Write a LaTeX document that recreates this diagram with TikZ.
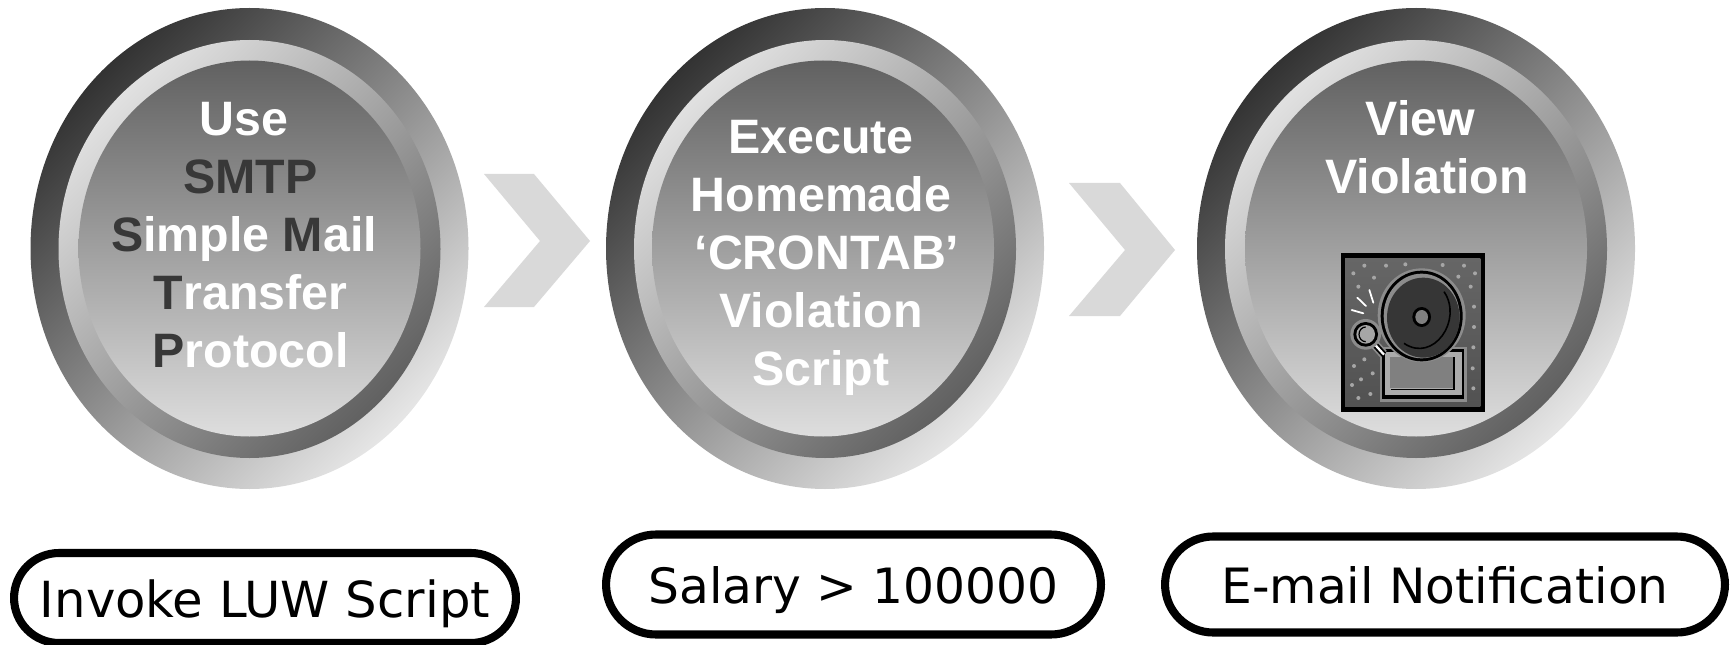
\documentclass[tikz,border=0pt]{standalone}
\usepackage{fontspec}
\setmainfont{Liberation Sans}
\newfontfamily\pillFont{DejaVu Sans}
\usetikzlibrary{positioning, shapes.misc}
\definecolor{darkLetter}{RGB}{56, 56, 56}
\definecolor{chevronCol}{RGB}{217, 217, 217}
\definecolor{bellHalo}{RGB}{140, 140, 140}
\definecolor{bellDark}{RGB}{54, 54, 54}
\tikzset{myOuterRing/.style={top color=black!80, bottom color=black!10, shading angle=45}}
\tikzset{myMiddleRing/.style={top color=black!12, bottom color=black!62, shading angle=45}}
\tikzset{myInnerDisc/.style={top color=black!62, bottom color=black!13}}
\tikzset{myChevron/.style={fill=chevronCol}}
\tikzset{myDiscText/.style={text=white, align=center, font=\fontsize{27.5}{33}\selectfont\bfseries}}
\tikzset{myPill/.style={rounded rectangle, draw=black, line width=4.6pt, fill=white, text=black, text height=0.74cm, text depth=0pt, inner sep=0pt, font=\pillFont\fontsize{27.7}{32}\selectfont}}
\newcommand{\cx}{0}

\begin{document}
\begin{tikzpicture}[x=0.02cm, y=-0.02cm]
	\useasboundingbox (0,0) rectangle (1733,645);

	\renewcommand{\cx}{249.5}
	\shade[myOuterRing](\cx,248.5) ellipse [x radius=219, y radius=240.5];
	\shade[myMiddleRing](\cx,249) ellipse [x radius=191, y radius=209];
	\shade[myInnerDisc](\cx,248.5) ellipse [x radius=171, y radius=188];

	\renewcommand{\cx}{825}
	\shade[myOuterRing](\cx,248.5) ellipse [x radius=219, y radius=240.5];
	\shade[myMiddleRing](\cx,249) ellipse [x radius=191, y radius=209];
	\shade[myInnerDisc](823,248.5) ellipse [x radius=171, y radius=188];

	\renewcommand{\cx}{1416}
	\shade[myOuterRing](\cx,248.5) ellipse [x radius=219, y radius=240.5];
	\shade[myMiddleRing](\cx,249) ellipse [x radius=191, y radius=209];
	\shade[myInnerDisc](\cx,248.5) ellipse [x radius=171, y radius=188];

	\fill[myChevron](484,174)--(534,174)--(590,241)--(534,307)--(484,307)--(540,241)--cycle;
	\fill[myChevron](1069,183)--(1120,183)--(1175,250)--(1120,316)--(1069,316)--(1125,250)--cycle;

	\node[myDiscText] (smtpText) at (244,235) {Use\\\hspace*{0.26cm}\textcolor{darkLetter}{SMTP}\\\textcolor{darkLetter}{S}imple \textcolor{darkLetter}{M}ail\\\hspace*{0.26cm}\textcolor{darkLetter}{T}ransfer\\\hspace*{0.26cm}\textcolor{darkLetter}{P}rotocol};
	\node[myDiscText] (cronText) at (821,258) {Execute\\Homemade\\\hspace*{0.24cm}`CRONTAB'\\Violation\\Script};
	\node[myDiscText] (viewText) at (1427,147.5) {View\hspace*{0.26cm}\\Violation};

	% alarm bell picture, in 3x zoom units
	\begin{scope}[shift={(1300,230)}, scale=0.33333]
		\fill[black](123,68) rectangle (555,546);
		\shade[top color=black!60, bottom color=black!68](135,85) rectangle (541,530);
		\fill[black!35](193,107) circle [radius=6] (258,107) circle [radius=6] (316,103) circle [radius=6] (428,105) circle [radius=6] (492,107) circle [radius=6] (160,130) circle [radius=6] (222,143) circle [radius=6] (475,140) circle [radius=6] (525,130) circle [radius=6] (175,170) circle [radius=6] (512,170) circle [radius=6] (522,230) circle [radius=6] (522,291) circle [radius=6] (520,352) circle [radius=6] (518,415) circle [radius=6] (520,475) circle [radius=6] (193,388) circle [radius=6] (162,408) circle [radius=6] (218,430) circle [radius=6] (183,448) circle [radius=6] (156,465) circle [radius=6] (211,492) circle [radius=6] (175,504) circle [radius=6];
		\draw[white, line width=1pt, line cap=round](155,240)--(190,250);
		\draw[white, line width=1pt, line cap=round](172,203)--(198,228);
		\draw[white, line width=1pt, line cap=round](208,180)--(220,218);
		% base
		\fill[bellHalo](240,350) rectangle (500,515);
		\fill[black](246,358) rectangle (493,508);
		\fill[black!33](256,366) rectangle (485,496);
		\fill[black!50](270,382) rectangle (460,474);
		\draw[black, line width=0.9pt](462,382)--(462,478)--(272,478);
		% hammer
		\draw[bellHalo, line width=5.3pt](197,313)--(250,372);
		\draw[black, line width=3.4pt](197,313)--(252,374);
		\draw[white, line width=1.3pt](215,333)--(252,374);
		\fill[bellHalo](197,313) circle [radius=46];
		\fill[black](197,313) circle [radius=37];
		\fill[black!35](197,313) circle [radius=28];
		\draw[black, line width=0.7pt](197,335) arc [start angle=90, end angle=270, x radius=20, y radius=22];
		% bell
		\fill[bellHalo](365,256) ellipse [x radius=132, y radius=141];
		\fill[black](365,258) ellipse [x radius=123, y radius=136];
		\fill[bellHalo](365,258) ellipse [x radius=114, y radius=127];
		\fill[bellDark](370,263) ellipse [x radius=109, y radius=120];
		\draw[black, line width=0.9pt](432,185) .. controls (490,270) and (400,400) .. (312,340);
		\fill[black](365,261) ellipse [x radius=28, y radius=30];
		\fill[black!50](365,261) ellipse [x radius=19, y radius=21];
	\end{scope}

	\node[myPill, minimum width=10.04cm, minimum height=1.8cm, text height=0.78cm, font=\pillFont\fontsize{28.3}{32}\selectfont] (invokePill) at (265,598) {Invoke LUW Script};
	\node[myPill, minimum width=9.9cm, minimum height=2cm] (salaryPill) at (853.5,584.5) {Salary > 100000};
	\node[myPill, minimum width=11.2cm, minimum height=1.92cm] (mailPill) at (1445,584.5) {E-mail Notification};
\end{tikzpicture}
\end{document}
